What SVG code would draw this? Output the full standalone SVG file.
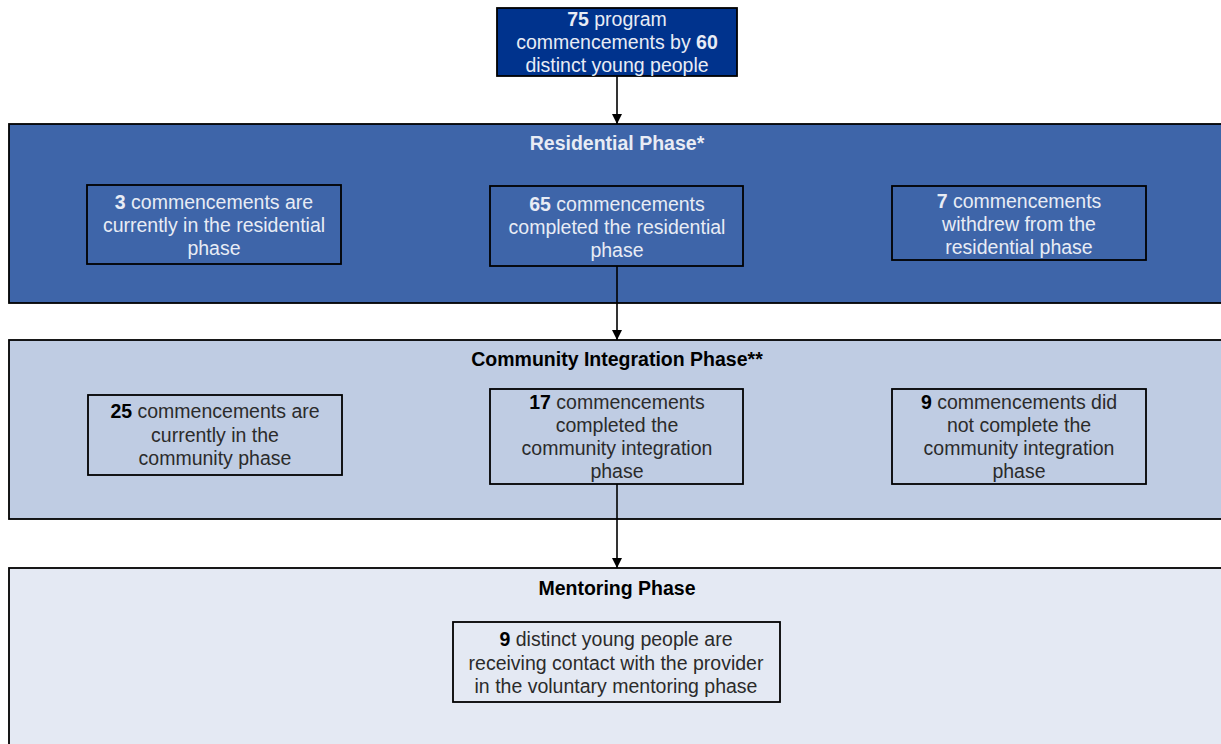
<svg xmlns="http://www.w3.org/2000/svg" width="1221" height="744" viewBox="0 0 1221 744">
<defs>
<marker id="ah" markerWidth="10" markerHeight="10" refX="10" refY="5" orient="auto" markerUnits="userSpaceOnUse">
<path d="M0,0 L10,5 L0,10 Z" fill="#000"/>
</marker>
<style>
text{font-family:"Liberation Sans",Arial,sans-serif;font-size:19.5px;text-anchor:middle}
.b{font-weight:bold}
.lt{fill:#E8ECF5}
.dk{fill:#2B2B2B}
.t{font-weight:bold;font-size:19.5px}
.box{stroke:#000;stroke-width:1.8}
.conn line{stroke:#000;stroke-width:1.6}
</style>
</defs>
<rect width="1221" height="744" fill="#fff"/>

<g id="residential-phase">
<rect x="9" y="124" width="1225" height="179" fill="#3E65A9" class="box"/>
<text x="617" y="150" class="t lt">Residential Phase*</text>
</g>
<g id="community-phase">
<rect x="9" y="340" width="1225" height="179" fill="#BFCCE3" class="box"/>
<text x="617" y="366" class="t" fill="#000">Community Integration Phase**</text>
</g>
<g id="mentoring-phase">
<rect x="9" y="568" width="1225" height="190" fill="#E4E9F3" class="box"/>
<text x="617" y="595" class="t" fill="#000">Mentoring Phase</text>
</g>

<g id="commencements">
<rect x="497" y="8" width="240" height="68" fill="#00338D" class="box"/>
<text x="617" y="26" class="lt"><tspan class="b">75</tspan> program</text>
<text x="617" y="49" class="lt">commencements by <tspan class="b">60</tspan></text>
<text x="617" y="72" class="lt">distinct young people</text>
</g>

<g id="res-current">
<rect x="87" y="185" width="254" height="79" fill="#3E65A9" class="box"/>
<text x="214" y="209" class="lt"><tspan class="b">3</tspan> commencements are</text>
<text x="214" y="232" class="lt">currently in the residential</text>
<text x="214" y="255" class="lt">phase</text>
</g>
<g id="res-completed">
<rect x="490" y="186" width="253" height="80" fill="#3E65A9" class="box"/>
<text x="617" y="211" class="lt"><tspan class="b">65</tspan> commencements</text>
<text x="617" y="234" class="lt">completed the residential</text>
<text x="617" y="257" class="lt">phase</text>
</g>
<g id="res-withdrew">
<rect x="892" y="186" width="254" height="74" fill="#3E65A9" class="box"/>
<text x="1019" y="208" class="lt"><tspan class="b">7</tspan> commencements</text>
<text x="1019" y="231" class="lt">withdrew from the</text>
<text x="1019" y="254" class="lt">residential phase</text>
</g>

<g id="com-current">
<rect x="88" y="395" width="254" height="80" fill="#BFCCE3" class="box"/>
<text x="215" y="418" class="dk"><tspan class="b" fill="#000">25</tspan> commencements are</text>
<text x="215" y="442" class="dk">currently in the</text>
<text x="215" y="465" class="dk">community phase</text>
</g>
<g id="com-completed">
<rect x="490" y="389" width="253" height="95" fill="#BFCCE3" class="box"/>
<text x="617" y="409" class="dk"><tspan class="b" fill="#000">17</tspan> commencements</text>
<text x="617" y="432" class="dk">completed the</text>
<text x="617" y="455" class="dk">community integration</text>
<text x="617" y="478" class="dk">phase</text>
</g>
<g id="com-not-completed">
<rect x="892" y="389" width="254" height="95" fill="#BFCCE3" class="box"/>
<text x="1019" y="409" class="dk"><tspan class="b" fill="#000">9</tspan> commencements did</text>
<text x="1019" y="432" class="dk">not complete the</text>
<text x="1019" y="455" class="dk">community integration</text>
<text x="1019" y="478" class="dk">phase</text>
</g>

<g id="mentoring">
<rect x="453" y="622" width="327" height="80" fill="#E4E9F3" class="box"/>
<text x="616" y="646" class="dk"><tspan class="b" fill="#000">9</tspan> distinct young people are</text>
<text x="616" y="670" class="dk">receiving contact with the provider</text>
<text x="616" y="693" class="dk">in the voluntary mentoring phase</text>
</g>

<g id="connectors" class="conn">
<line x1="617" y1="76" x2="617" y2="124" marker-end="url(#ah)"/>
<line x1="617" y1="266" x2="617" y2="340" marker-end="url(#ah)"/>
<line x1="617" y1="484" x2="617" y2="568" marker-end="url(#ah)"/>
</g>
</svg>
